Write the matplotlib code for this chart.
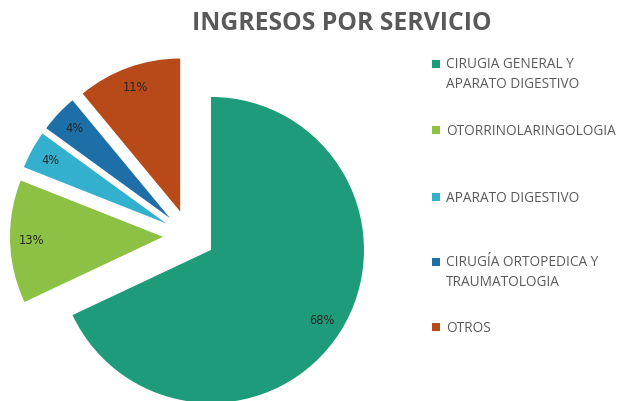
import matplotlib
matplotlib.use("Agg")
import matplotlib.pyplot as plt
from matplotlib.patches import Rectangle

categories = ["CIRUGIA GENERAL Y\nAPARATO DIGESTIVO", "OTORRINOLARINGOLOGIA",
              "APARATO DIGESTIVO", "CIRUGÍA ORTOPEDICA Y\nTRAUMATOLOGIA", "OTROS"]
values = [68, 13, 4, 4, 11]
colors = ["#1E9B78", "#8CC145", "#34B0CF", "#1E6FA8", "#B74A18"]
explode = [0.17, 0.17, 0.17, 0.17, 0.17]

W, H = 623, 401
fig = plt.figure(figsize=(W / 100, H / 100), dpi=100)
ax = fig.add_axes([0, 0, 1, 1])

cx, cy, R = 189, 236, 153

wedges, texts, autotexts = ax.pie(values, colors=colors, explode=explode, startangle=90,
                                  counterclock=False, radius=1, autopct="%1.0f%%",
                                  pctdistance=0.86, frame=False,
                                  textprops=dict(fontsize=8.3, color="#262626", family="DejaVu Sans"))
ax.set_xlim(-cx / R, (W - cx) / R)
ax.set_ylim(-(H - cy) / R, cy / R)
ax.set_aspect("equal", adjustable="box")
ax.axis("off")

fig.text(342 / W, 1 - 23 / H, "INGRESOS POR SERVICIO", ha="center", va="center",
         fontsize=17.8, fontweight="bold", color="#595959", family="Open Sans")

ys = [64, 130, 197, 262, 327]
for lab, col, y in zip(categories, colors, ys):
    fig.patches.append(Rectangle((432 / W, 1 - (y + 4) / H), 8 / W, 8 / H,
                                 transform=fig.transFigure, facecolor=col, edgecolor="none"))
    fig.text(446 / W, 1 - (y - 6.5) / H, lab, ha="left", va="top", fontsize=9.8,
             color="#595959", family="Open Sans", linespacing=1.42)

fig.savefig("out.png", dpi=100, facecolor="white")
